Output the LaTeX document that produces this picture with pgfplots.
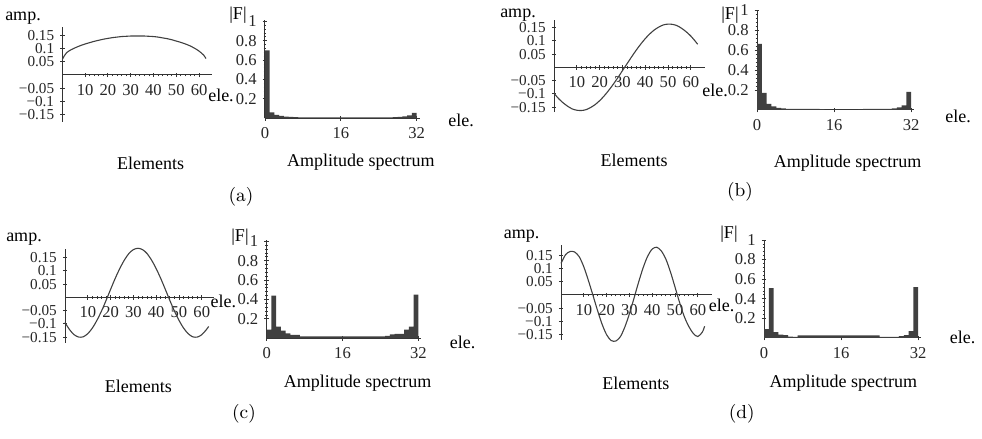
\documentclass[border=0pt]{standalone}
\usepackage{fontspec}
\usepackage{pgfplots}
\pgfplotsset{compat=1.18}
\newfontfamily\tnr{Liberation Serif}
\newcommand\tk{\tnr\fontsize{8.3}{9}\selectfont}
\newcommand\tky{\tnr\fontsize{7.6}{8}\selectfont}
\newcommand\lb{\tnr\fontsize{9}{10}\selectfont}
\newcommand\capf{\fontsize{9.4}{11}\selectfont}
\pgfplotsset{
  lp/.style={
    axis lines=middle, axis line style={-, black!80, line width=0.5pt},
    x=1.14pt, y=132.5pt, xmin=0,
    xtick={10,20,30,40,50,60}, xticklabels={10,20,30,40,50,60},
    minor x tick num=4,
    ytick={-0.15,-0.1,-0.05,0.05,0.1,0.15},
    yticklabels={−0.15,−0.1,−0.05,0.05,0.1,0.15},
    minor y tick num=4,
    tick style={black!80, line width=0.4pt},
    major tick length=2.2pt, minor tick length=1.4pt,
    tick label style={font=\tk, black!85},
    yticklabel style={font=\tky, inner sep=0.4pt, xshift=-2.4pt},
    clip=false, anchor=south west,
  },
  bp/.style={
    axis lines=left, axis line style={-, black!80, line width=0.5pt},
    xmin=0, xmax=32.6, ymin=0,
    xtick={0,16,32}, xticklabels={0,16,32},
    ytick={0.2,0.4,0.6,0.8,1}, yticklabels={0.2,0.4,0.6,0.8,1},
    minor y tick num=4,
    tick style={black!80, line width=0.4pt},
    major tick length=2.4pt, minor tick length=1.4pt,
    tick label style={font=\tk, black!85},
    yticklabel style={inner sep=0.6pt, xshift=-2.2pt},
    clip=false, anchor=south west,
  },
  crv/.style={black!75, line width=0.55pt, mark=none, smooth},
}
\begin{document}
\begin{tikzpicture}
\useasboundingbox (0,0) rectangle (491pt,219.5pt);
% ---------------- (a) ----------------
\begin{axis}[lp, at={(31.15pt,158.55pt)}, xmax=65.7, ymin=-0.177, ymax=0.181]
\addplot[crv] coordinates {(0,0.058)(1,0.074)(2,0.085)(4,0.096)(6,0.104)(8,0.111)(10,0.117)(12,0.122)(14,0.127)(16,0.131)(18,0.135)(20,0.138)(22,0.141)(24,0.143)(26,0.145)(28,0.146)(30,0.147)(32,0.147)(34,0.147)(36,0.147)(38,0.146)(40,0.145)(42,0.143)(44,0.140)(46,0.137)(48,0.133)(50,0.128)(52,0.123)(54,0.117)(56,0.110)(58,0.101)(60,0.090)(62,0.075)(63,0.062)};
\end{axis}
\begin{axis}[bp, at={(132.5pt,160.35pt)}, x=2.37pt, y=48.5pt, ymax=1.013]
\addplot[ybar, bar width=2.37pt, bar shift=1.185pt, fill=black!75, draw=none] coordinates {(0,0.70)(1,0.06)(2,0.035)(3,0.025)(4,0.018)(5,0.014)(6,0.012)(7,0.01)(8,0.01)(9,0.01)(10,0.01)(11,0.01)(12,0.01)(13,0.01)(14,0.01)(15,0.01)(16,0.01)(17,0.01)(18,0.01)(19,0.01)(20,0.01)(21,0.01)(22,0.01)(23,0.01)(24,0.01)(25,0.01)(26,0.01)(27,0.012)(28,0.015)(29,0.02)(30,0.03)(31,0.055)};
\end{axis}
% ---------------- (b) ----------------
\begin{axis}[lp, at={(277pt,163.45pt)}, xmax=66.2, ymin=-0.169, ymax=0.178]
\addplot[crv] coordinates {(0,-0.098)(2,-0.118)(4,-0.134)(6,-0.147)(8,-0.157)(10,-0.162)(12,-0.163)(14,-0.160)(16,-0.152)(18,-0.141)(20,-0.126)(22,-0.108)(24,-0.087)(26,-0.064)(28,-0.039)(30,-0.013)(32,0.013)(34,0.039)(36,0.064)(38,0.087)(40,0.108)(42,0.126)(44,0.141)(46,0.152)(48,0.160)(50,0.163)(52,0.162)(54,0.157)(56,0.147)(58,0.134)(60,0.118)(62,0.098)(63,0.087)};
\end{axis}
\begin{axis}[bp, at={(378.5pt,164.5pt)}, x=2.41pt, y=50pt, ymax=1.0]
\addplot[ybar, bar width=2.41pt, bar shift=1.205pt, fill=black!75, draw=none] coordinates {(0,0.66)(1,0.17)(2,0.06)(3,0.035)(4,0.02)(5,0.015)(6,0.012)(7,0.012)(8,0.012)(9,0.012)(10,0.012)(11,0.01)(12,0.01)(13,0.008)(14,0.004)(15,0.004)(16,0.004)(17,0.004)(18,0.004)(19,0.004)(20,0.004)(21,0.006)(22,0.012)(23,0.012)(24,0.012)(25,0.012)(26,0.012)(27,0.012)(28,0.015)(29,0.025)(30,0.045)(31,0.18)};
\end{axis}
% ---------------- (c) ----------------
\begin{axis}[lp, at={(32.5pt,48.05pt)}, xmax=65.5, ymin=-0.172, ymax=0.183]
\addplot[crv] coordinates {(0,-0.095)(2,-0.122)(4,-0.141)(6,-0.150)(8,-0.149)(10,-0.137)(12,-0.116)(14,-0.087)(16,-0.052)(18,-0.012)(20,0.030)(22,0.071)(24,0.108)(26,0.140)(28,0.165)(30,0.180)(32,0.185)(34,0.180)(36,0.165)(38,0.140)(40,0.108)(42,0.071)(44,0.030)(46,-0.012)(48,-0.052)(50,-0.087)(52,-0.116)(54,-0.137)(56,-0.149)(58,-0.150)(60,-0.141)(62,-0.122)(63,-0.110)};
\end{axis}
\begin{axis}[bp, at={(133.35pt,50.35pt)}, x=2.37pt, y=48.5pt, ymax=1.01]
\addplot[ybar, bar width=2.37pt, bar shift=1.185pt, fill=black!75, draw=none] coordinates {(0,0.09)(1,0.44)(2,0.12)(3,0.08)(4,0.05)(5,0.035)(6,0.035)(7,0.02)(8,0.02)(9,0.02)(10,0.02)(11,0.02)(12,0.02)(13,0.02)(14,0.02)(15,0.02)(16,0.02)(17,0.02)(18,0.02)(19,0.02)(20,0.02)(21,0.02)(22,0.02)(23,0.02)(24,0.02)(25,0.025)(26,0.04)(27,0.045)(28,0.045)(29,0.09)(30,0.12)(31,0.45)};
\end{axis}
% ---------------- (d) ----------------
\begin{axis}[lp, at={(280.5pt,49.5pt)}, xmax=66.1, ymin=-0.17, ymax=0.189]
\addplot[crv] coordinates {(0,0.119)(2,0.152)(4,0.164)(6,0.162)(8,0.144)(10,0.106)(12,0.055)(14,-0.001)(16,-0.058)(18,-0.110)(20,-0.150)(22,-0.172)(24,-0.174)(26,-0.158)(28,-0.121)(30,-0.071)(32,-0.013)(34,0.047)(36,0.102)(38,0.146)(40,0.173)(42,0.180)(44,0.166)(46,0.135)(48,0.087)(50,0.030)(52,-0.028)(54,-0.080)(56,-0.118)(58,-0.145)(60,-0.157)(62,-0.140)(63,-0.118)};
\end{axis}
\begin{axis}[bp, at={(382pt,50.5pt)}, x=2.41pt, y=49pt, ymax=1.0]
\addplot[ybar, bar width=2.41pt, bar shift=1.205pt, fill=black!75, draw=none] coordinates {(0,0.09)(1,0.51)(2,0.06)(3,0.035)(4,0.03)(5,0.015)(6,0.012)(7,0.028)(8,0.028)(9,0.028)(10,0.028)(11,0.028)(12,0.028)(13,0.028)(14,0.028)(15,0.028)(16,0.028)(17,0.028)(18,0.028)(19,0.028)(20,0.028)(21,0.028)(22,0.028)(23,0.028)(24,0.012)(25,0.012)(26,0.012)(27,0.012)(28,0.02)(29,0.03)(30,0.07)(31,0.52)};
\end{axis}
% ---------------- labels ----------------
\begin{scope}[every node/.style={font=\lb, inner sep=0pt}]
\node at (11.5pt,210.35pt) {amp.};
\node at (259pt,212pt) {amp.};
\node at (12pt,99.85pt) {amp.};
\node at (260.85pt,101.5pt) {amp.};
\node at (110.5pt,172pt) {ele.};
\node at (357.5pt,174.5pt) {ele.};
\node at (111.65pt,68.65pt) {ele.};
\node at (360.85pt,67pt) {ele.};
\node at (230.5pt,159.5pt) {ele.};
\node at (479pt,161.15pt) {ele.};
\node at (231.25pt,48.15pt) {ele.};
\node at (481.25pt,50.85pt) {ele.};
\node at (119pt,212pt) {|F|};
\node at (365pt,212pt) {|F|};
\node at (120pt,101pt) {|F|};
\node at (364.5pt,102.5pt) {|F|};
\node at (75.35pt,137.85pt) {Elements};
\node at (317pt,139.5pt) {Elements};
\node at (69.15pt,26.15pt) {Elements};
\node at (317.9pt,27.85pt) {Elements};
\node at (180.4pt,138.65pt) {Amplitude spectrum};
\node at (423.75pt,137.85pt) {Amplitude spectrum};
\node at (178.75pt,27.85pt) {Amplitude spectrum};
\node at (421.65pt,27.85pt) {Amplitude spectrum};
\end{scope}
\begin{scope}[every node/.style={font=\capf, inner sep=0pt}]
\node at (120.5pt,121pt) {(a)};
\node at (370pt,123.5pt) {(b)};
\node at (122pt,12.5pt) {(c)};
\node at (370.85pt,12.85pt) {(d)};
\end{scope}
\end{tikzpicture}
\end{document}
